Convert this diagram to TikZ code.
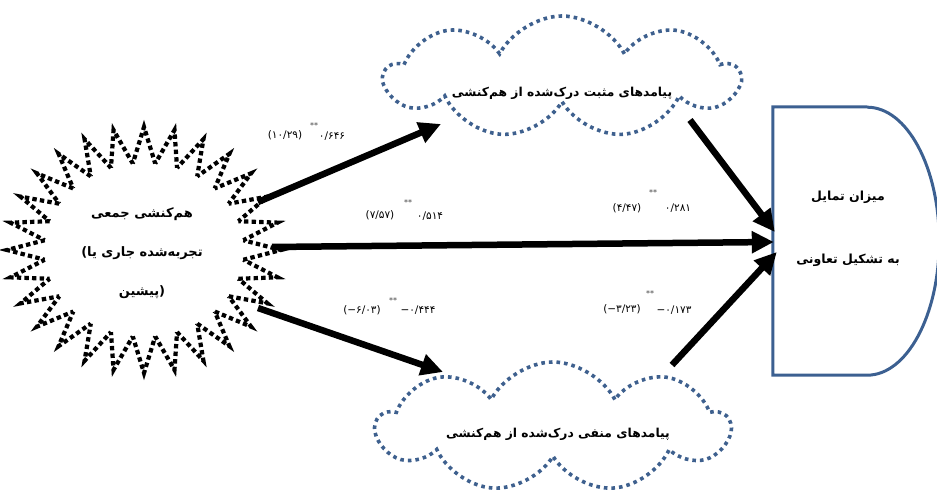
\documentclass[tikz,border=0pt]{standalone}
\usepackage{fontspec}
\usetikzlibrary{arrows.meta,calc,shapes.symbols,shapes.geometric}
\TeXXeTstate=1
\newfontfamily\fa[Script=Arabic]{DejaVu Sans}
\newfontfamily\la{DejaVu Sans}
\definecolor{dotblue}{RGB}{62,96,142}
\definecolor{dblue}{RGB}{60,96,145}
\begin{document}
\begin{tikzpicture}[x=1pt,y=1pt,
  cloudbox/.style={cloud, cloud puffs=9, cloud puff arc=125, cloud ignores aspect,
     draw=dotblue, line width=3.6pt, dash pattern=on 3.6pt off 4pt, inner sep=0pt},
  txt/.style={font=\fa\bfseries\fontsize{12.3}{14}\selectfont, inner sep=1pt},
  num/.style={font=\fa\fontsize{10.5}{11}\selectfont, inner sep=0.5pt},
  stars/.style={font=\la\fontsize{8}{8}\selectfont, text=black!75, inner sep=0pt},
  bigarrow/.style={line width=6.5pt, -{Triangle[length=22pt,width=21pt]}},
  starline/.style={line width=4.2pt, miter limit=20}
]
\useasboundingbox (0,0) rectangle (937,494);

% source (starburst)
\node[ellipse, minimum width=252pt, minimum height=190pt, inner sep=0pt,
      font=\fa\bfseries\fontsize{13}{39}\selectfont, align=center] (src) at (142,241)
  {\beginR هم‌کنشی جمعی\endR\\\hbox{{\la\bfseries(}\beginR تجربه‌شده جاری یا\endR}\\\hbox{\beginR پیشین\endR{\la\bfseries)}}};
\foreach \i in {0,...,27}{
  \pgfmathsetmacro{\a}{90+\i*360/28}
  \pgfmathsetmacro{\b}{\a-180/28}
  \pgfmathsetmacro{\c}{\a+180/28}
  \pgfmathsetmacro{\E}{veclen(137*cos(\a)-100*cos(\b),123*sin(\a)-87*sin(\b))}
  \pgfmathsetmacro{\ph}{mod(2.2-\E+75,7.6)}
  \draw[starline, dash pattern=on 4.4pt off 3.2pt, dash phase=\ph pt]
    ($(144,244)+({100*cos(\b)},{87*sin(\b)})$) --
    ($(144,244)+({137*cos(\a)},{123*sin(\a)})$) --
    ($(144,244)+({100*cos(\c)},{87*sin(\c)})$);
}

% clouds
\node[cloudbox, minimum width=353pt, minimum height=122pt] (pos) at (562,417) {};
\node[txt] (postxt) at (562,401) {\beginR پیامدهای مثبت درک‌شده از هم‌کنشی\endR};
\node[cloudbox, minimum width=352pt, minimum height=130pt] (neg) at (553,67) {};
\node[txt] (negtxt) at (558,60) {\beginR پیامدهای منفی درک‌شده از هم‌کنشی\endR};

% target D shape
\node[minimum width=94pt, minimum height=268pt, inner sep=0pt] (tgt) at (820,253) {};
\draw[dblue, line width=3pt, line join=miter]
  (tgt.north east) -- (tgt.north west) -- (tgt.south west) -- (tgt.south east)
  arc[start angle=-90, end angle=90, x radius=72pt, y radius=134pt];
\node[font=\fa\bfseries\fontsize{12.5}{63}\selectfont, align=center] (tgttxt) at (848,265)
  {\beginR میزان تمایل\endR\\\beginR به تشکیل تعاونی\endR};

% arrows
\draw[bigarrow] ($(src.center)+(116,51)$) -- ($(pos.center)+(-121,-47)$);
\draw[bigarrow] ($(src.center)+(130,6)$) -- ($(tgt.west)+(1,-1)$);
\draw[bigarrow] ($(src.center)+(116,-55)$) -- ($(neg.center)+(-110,55)$);
\draw[bigarrow] ($(pos.center)+(128,-43)$) -- ($(tgt.west)+(2,9)$);
\draw[bigarrow] ($(neg.center)+(119,62)$) -- ($(tgt.west)+(4,-11)$);

% coefficient labels
\node[num] (l1a) at (285,359) {{\la(}۱۰/۲۹{\la)}};
\node[stars] (l1s) at (314,368) {**};
\node[num] (l1b) at (332,358) {۰/۶۴۶};
\node[num] (l2a) at (380,279) {{\la(}۷/۵۷{\la)}};
\node[stars] (l2s) at (408,291) {**};
\node[num] (l2b) at (430,278) {۰/۵۱۴};
\node[num] (l3a) at (627,286) {{\la(}۴/۴۷{\la)}};
\node[stars] (l3s) at (653,301) {**};
\node[num] (l3b) at (678,286) {۰/۲۸۱};
\node[num] (l4a) at (362,184) {{\la(−}۶/۰۳{\la)}};
\node[stars] (l4s) at (393,193) {**};
\node[num] (l4b) at (418,184) {{\la−}۰/۴۴۴};
\node[num] (l5a) at (622,185) {{\la(−}۳/۲۳{\la)}};
\node[stars] (l5s) at (650,200) {**};
\node[num] (l5b) at (674,184) {{\la−}۰/۱۷۳};
\end{tikzpicture}
\end{document}
